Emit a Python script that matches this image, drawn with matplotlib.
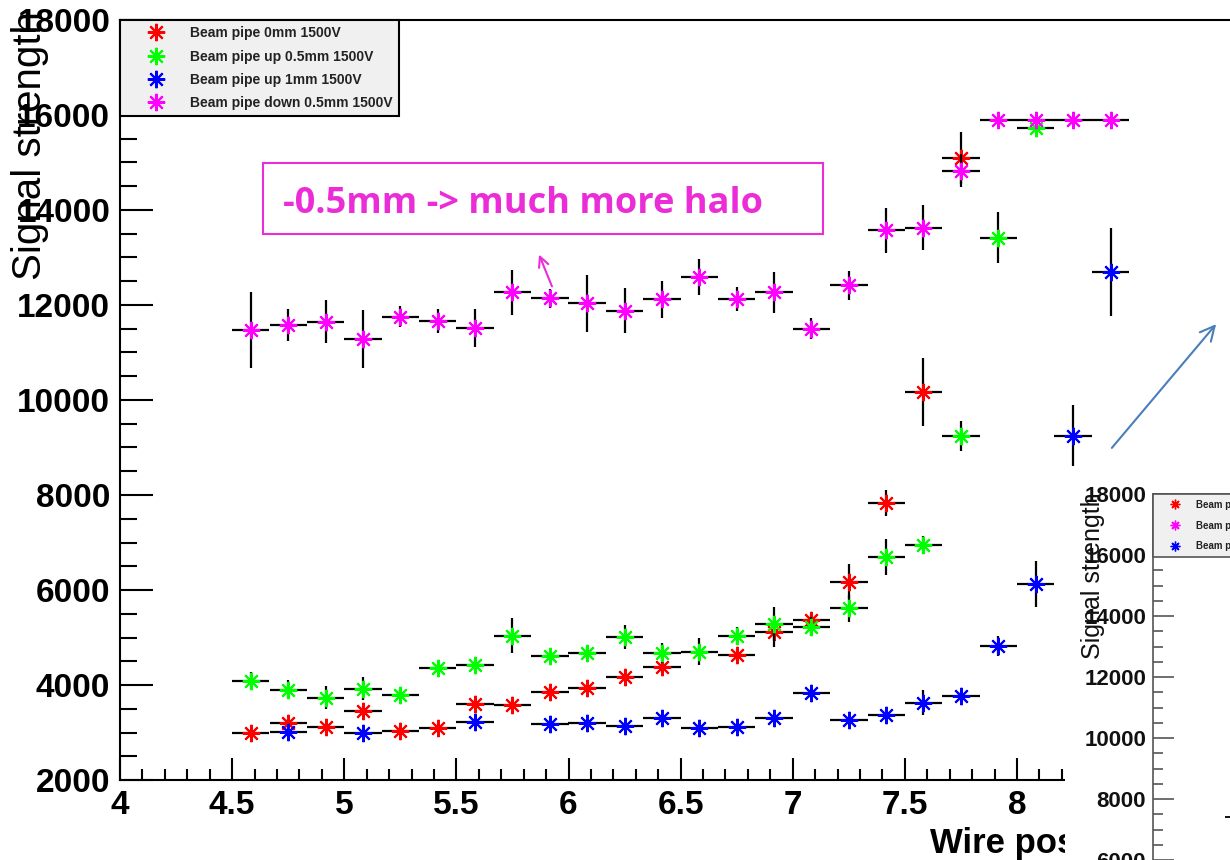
import matplotlib
matplotlib.use("Agg")
import matplotlib.pyplot as plt
from matplotlib.patches import Rectangle
from matplotlib.ticker import MultipleLocator, FuncFormatter

nan = float("nan")

# bin centres of the wire scan (bin width 1/6 mm)
wire_pos = [4.583, 4.75, 4.917, 5.083, 5.25, 5.417, 5.583, 5.75, 5.917, 6.083,
            6.25, 6.417, 6.583, 6.75, 6.917, 7.083, 7.25, 7.417, 7.583, 7.75,
            7.917, 8.083, 8.25, 8.417]
half_bin = 1 / 12

sig_0mm = [2980, 3190, 3120, 3450, 3040, 3100, 3610, 3580, 3860, 3930,
           4175, 4370, nan, 4630, 5110, 5370, 6175, 7840, 10170, 15090,
           nan, nan, nan, nan]
err_0mm = [90, 90, 90, 100, 90, 90, 100, 100, 100, 100,
           110, 110, nan, 120, 300, 120, 365, 275, 715, 550,
           nan, nan, nan, nan]

sig_up05 = [4090, 3905, 3735, 3925, 3800, 4350, 4420, 5040, 4610, 4670,
            5010, 4680, 4700, 5040, 5285, 5230, 5615, 6700, 6950, 9240,
            13420, 15720, nan, nan]
err_up05 = [180, 200, 240, 240, 100, 100, 120, 375, 100, 120,
            250, 210, 280, 190, 350, 200, 280, 380, 190, 315,
            530, 100, nan, nan]

sig_up1 = [nan, 3020, nan, 3000, nan, nan, 3215, nan, 3180, 3200,
           3140, 3310, 3090, 3120, 3310, 3825, 3265, 3370, 3630, 3770,
           4830, 6130, 9250, 12700]
err_up1 = [nan, 80, nan, 80, nan, nan, 80, nan, 80, 80,
           80, 80, 80, 80, 100, 100, 80, 100, 270, 100,
           210, 480, 640, 925]

sig_down05 = [11475, 11580, 11650, 11285, 11755, 11665, 11510, 12265, 12140, 12035,
              11875, 12120, 12595, 12120, 12265, 11500, 12415, 13570, 13630, 14830,
              15895, 15895, 15895, 15895]
err_down05 = [795, 345, 455, 605, 225, 255, 400, 475, 200, 595,
              475, 385, 375, 255, 440, 220, 300, 475, 475, 340,
              50, 50, 50, 50]

labels = ["Beam pipe 0mm 1500V", "Beam pipe up 0.5mm 1500V",
          "Beam pipe up 1mm 1500V", "Beam pipe down 0.5mm 1500V"]
colors = ["#ff0000", "#00ff00", "#0000ff", "#ff00ff"]

# small second plot pasted in the lower right corner (mostly cut off)
inset_pos = [4.583]
inset_sig = [7400]
inset_labels = ["Beam pipe 0mm 1200V", "Beam pipe down 0.5mm 1200V",
                "Beam pipe up 1mm 1200V"]
inset_colors = ["#ff0000", "#ff00ff", "#0000ff"]

PINK = "#eb2dd7"
STAR = (8, 2, 0)
W, H = 1230, 860

plt.rcParams["font.family"] = ["Liberation Sans", "DejaVu Sans"]
plt.rcParams["font.weight"] = "bold"


def px_box(left, top, right, bottom):
    return [left / W, 1 - bottom / H, (right - left) / W, (bottom - top) / H]


fig = plt.figure(figsize=(W / 100, H / 100), dpi=100)
ax = fig.add_axes(px_box(120, 20, 120 + 5 * 224.25, 780), zorder=1)

series = [(sig_0mm, err_0mm), (sig_up05, err_up05), (sig_up1, err_up1),
          (sig_down05, err_down05)]
for (sig, err), col, lab in zip(series, colors, labels):
    ax.errorbar(wire_pos, sig, xerr=half_bin, yerr=err, fmt="none",
                ecolor="black", elinewidth=1.6, capsize=0)
    ax.plot(wire_pos, sig, linestyle="none", marker=STAR, ms=12.5, mew=1.5,
            color=col, label=lab)

ax.set_xlim(4, 9)
ax.set_ylim(2000, 18000)
ax.xaxis.set_major_locator(MultipleLocator(0.5))
ax.xaxis.set_minor_locator(MultipleLocator(0.1))
ax.yaxis.set_major_locator(MultipleLocator(2000))
ax.yaxis.set_minor_locator(MultipleLocator(500))
ax.xaxis.set_major_formatter(FuncFormatter(lambda v, p: "%g" % v))
ax.tick_params(axis="x", which="major", direction="in", length=16, width=1.5,
               pad=7, labelsize=24)
ax.tick_params(axis="x", which="minor", direction="in", length=8, width=1.5)
ax.tick_params(axis="y", which="major", direction="in", length=24, width=1.5,
               pad=7, labelsize=24)
ax.tick_params(axis="y", which="minor", direction="in", length=12, width=1.5)
for s in ax.spines.values():
    s.set_linewidth(1.5)

leg = ax.legend(loc="upper left", bbox_to_anchor=(0, 1), borderaxespad=0,
                fancybox=False, facecolor="#f0f0f0", edgecolor="black",
                framealpha=1, prop=dict(size=10, weight="bold"),
                borderpad=0.45, handlelength=4.3, handletextpad=0.3,
                labelspacing=0.67)
leg.get_frame().set_linewidth(1.5)
for t in leg.get_texts():
    t.set_color("#222222")

# annotation
ax.add_patch(Rectangle((4.638, 13488), 2.497, 1495, fill=False,
                       edgecolor=PINK, lw=1.5))
ax.text(4.727, 13931, "-0.5mm -> much more halo", color=PINK, fontsize=26,
        family="Open Sans", weight="bold", va="baseline")
ax.annotate("", xy=(5.864, 13116), xytext=(5.931, 12337),
            arrowprops=dict(arrowstyle="->", color=PINK, lw=1.5,
                            mutation_scale=18))
ax.annotate("", xy=(8.896, 11642), xytext=(8.415, 8947),
            arrowprops=dict(arrowstyle="->", color="#4a7ebb", lw=1.5,
                            mutation_scale=26), annotation_clip=False)

fig.text(30 / W, 1 - 146 / H, "Signal strength", rotation=90, fontsize=29,
         weight="normal", ha="center", va="center")
fig.text(930 / W, 1 - 853 / H, "Wire position [mm]", fontsize=25,
         va="baseline", zorder=3)

# white cover of the pasted second plot
fig.add_artist(Rectangle((1065 / W, 0), 1, 1 - 472 / H,
                         transform=fig.transFigure, facecolor="white",
                         edgecolor="none", zorder=5))

ins = fig.add_axes(px_box(1153, 494, 1153 + 5 * 144, 982), zorder=6)
ins.set_facecolor("none")
ins.errorbar(inset_pos, inset_sig, xerr=half_bin, yerr=[150], fmt="none",
             ecolor="black", elinewidth=1.3, capsize=0)
ins.plot(inset_pos, inset_sig, linestyle="none", marker=STAR, ms=7, mew=1,
         color=inset_colors[0], label=inset_labels[0])
for col, lab in zip(inset_colors[1:], inset_labels[1:]):
    ins.plot([], [], linestyle="none", marker=STAR, ms=7, mew=1, color=col,
             label=lab)
ins.set_xlim(4, 9)
ins.set_ylim(2000, 18000)
ins.yaxis.set_major_locator(MultipleLocator(2000))
ins.yaxis.set_minor_locator(MultipleLocator(500))
ins.set_xticks([])
ins.tick_params(axis="y", which="major", direction="in", length=15, width=1.2,
                pad=5, labelsize=16, color="#555555", labelcolor="#111111")
ins.tick_params(axis="y", which="minor", direction="in", length=7.5,
                width=1.2, color="#555555")
for s in ins.spines.values():
    s.set_linewidth(1.2)
    s.set_color("#555555")
ileg = ins.legend(loc="upper left", bbox_to_anchor=(0, 1), borderaxespad=0,
                  fancybox=False, facecolor="#f0f0f0", edgecolor="#555555",
                  framealpha=1, prop=dict(size=7, weight="bold"),
                  borderpad=0.6, handlelength=3.3, handletextpad=0.5,
                  labelspacing=1.1)
ileg.get_frame().set_linewidth(1.2)
for t in ileg.get_texts():
    t.set_color("#222222")

fig.text(1093 / W, 1 - 576 / H, "Signal strength", rotation=90, fontsize=18,
         weight="normal", ha="center", va="center", zorder=7, color="#111111")

fig.savefig("out.png", dpi=100)
